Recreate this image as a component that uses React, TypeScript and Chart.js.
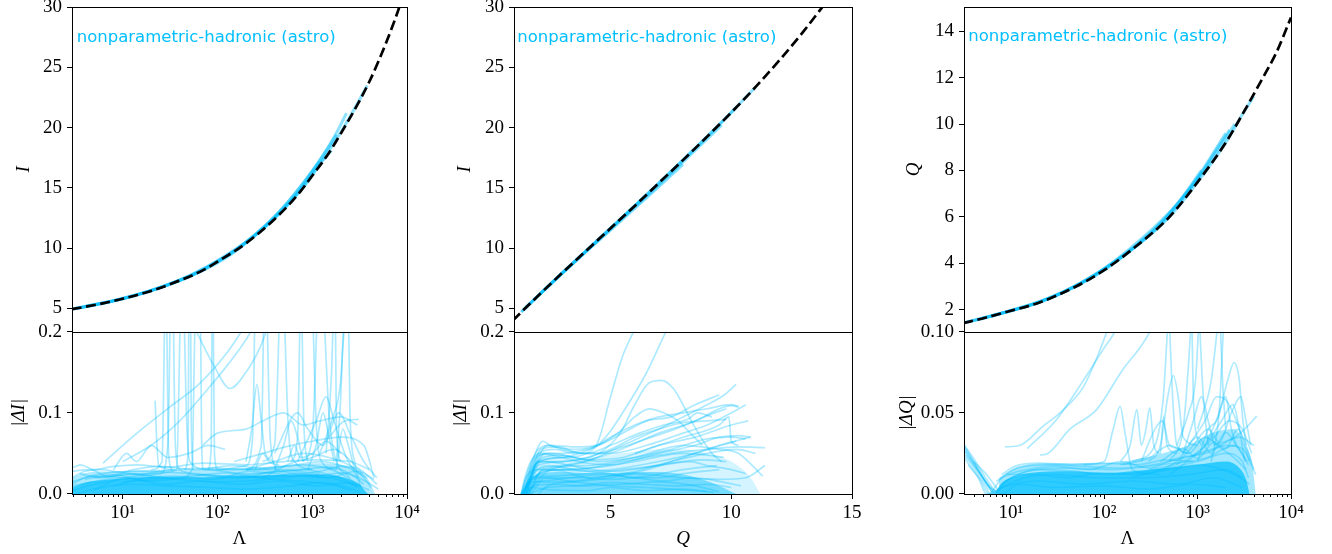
import React, { useEffect, useRef } from 'react';
import { Chart, registerables } from 'chart.js';
Chart.register(...registerables);

type Pt = [number, number];

const SERIF = '"Liberation Serif", "Times New Roman", serif';
const SANS = '"DejaVu Sans", sans-serif';
const ANNOTATION = 'nonparametric-hadronic (astro)';
const BLUE_TEXT = '#00BFFF';
const BLUE_LINE = 'rgba(0,191,255,0.32)';
const BLUE_TOP = 'rgba(0,191,255,0.45)';

// ---------- tick values / labels ----------
const LOG_MAJOR = [10, 100, 1000, 10000];
const LOG_MAJOR_LABELS = ['10¹', '10²', '10³', '10⁴'];
const LOG_MINOR = [3, 4, 5, 6, 7, 8, 9, 20, 30, 40, 50, 60, 70, 80, 90, 200, 300, 400, 500, 600, 700, 800, 900,
  2000, 3000, 4000, 5000, 6000, 7000, 8000, 9000];
const Q_X_TICKS = [5, 10, 15];
const Q_X_LABELS = ['5', '10', '15'];
const I_TICKS = [5, 10, 15, 20, 25, 30];
const I_LABELS = ['5', '10', '15', '20', '25', '30'];
const Q_TOP_TICKS = [2, 4, 6, 8, 10, 12, 14];
const Q_TOP_LABELS = ['2', '4', '6', '8', '10', '12', '14'];
const DI_TICKS = [0, 0.1, 0.2];
const DI_LABELS = ['0.0', '0.1', '0.2'];
const DQ_TICKS = [0, 0.05, 0.1];
const DQ_LABELS = ['0.00', '0.05', '0.10'];

// ---------- panel 1: I vs Lambda ----------
const P1_FIT_LAMBDA = [2.9, 4, 6, 10, 20, 40, 70, 100, 200, 400, 700, 1000, 1500, 2000, 3000, 4000, 5000, 6500, 8300, 9000];
const P1_FIT_I = [4.93, 5.13, 5.4, 5.8, 6.45, 7.32, 8.15, 8.87, 10.4, 12.4, 14.4, 16.0, 17.9, 19.5, 21.9, 23.8, 25.5, 27.7, 30.0, 30.9];
const P1_TOP_BLUE: Pt[][] = [
  [[3, 4.96], [5, 5.29], [10, 5.81], [20, 6.47], [50, 7.62], [100, 8.9], [200, 10.45], [500, 13.2], [1000, 16.1], [2000, 19.6], [3000, 22.0], [3800, 23.5]],
  [[3, 4.94], [6, 5.42], [12, 5.95], [30, 6.95], [80, 8.45], [200, 10.5], [500, 13.4], [1000, 16.4], [1700, 19.2], [2300, 21.2]],
  [[4, 5.15], [10, 5.82], [25, 6.75], [60, 7.95], [150, 9.75], [400, 12.6], [900, 15.9], [1500, 18.4], [1800, 19.4]],
  [[3, 4.95], [8, 5.62], [20, 6.5], [50, 7.7], [120, 9.35], [300, 11.6], [700, 14.6], [1200, 17.2]],
  [[3.5, 5.05], [9, 5.75], [22, 6.6], [55, 7.75], [140, 9.5], [350, 12.1], [800, 15.0], [1300, 17.3], [1600, 18.1]],
];
const P1_BOT_BAND: Pt[][] = [
  [[2.9, 0.004], [5, 0.012], [10, 0.018], [20, 0.02], [50, 0.017], [100, 0.015], [200, 0.016], [500, 0.02], [1000, 0.024], [2000, 0.02], [3000, 0.008]],
  [[2.9, 0.012], [4, 0.02], [7, 0.026], [15, 0.028], [40, 0.026], [100, 0.022], [300, 0.025], [800, 0.03], [1500, 0.033], [2500, 0.025], [3500, 0.012]],
  [[3.2, 0.0], [6, 0.008], [12, 0.012], [30, 0.01], [80, 0.008], [200, 0.006], [600, 0.01], [1200, 0.014], [2200, 0.009], [3200, 0.002]],
  [[2.9, 0.02], [4, 0.028], [6, 0.03], [9, 0.027], [20, 0.022], [60, 0.02], [150, 0.022], [400, 0.018], [900, 0.015], [1800, 0.01], [2600, 0.004]],
  [[5, 0.005], [8, 0.016], [16, 0.024], [35, 0.03], [90, 0.032], [250, 0.03], [600, 0.035], [1300, 0.04], [2400, 0.032], [3800, 0.02]],
  [[4, 0.018], [8, 0.024], [18, 0.016], [45, 0.02], [120, 0.026], [320, 0.02], [700, 0.026], [1400, 0.02], [3000, 0.028], [4500, 0.018]],
  [[2.9, 0.028], [4.5, 0.03], [7, 0.022], [13, 0.03], [25, 0.034], [60, 0.03], [140, 0.035], [300, 0.032], [700, 0.036], [1600, 0.03], [3300, 0.01]],
  [[2.9, 0.015], [5, 0.022], [11, 0.02], [28, 0.012], [65, 0.016], [170, 0.012], [450, 0.016], [1100, 0.01], [2300, 0.014], [4000, 0.005]],
  [[8, 0.01], [15, 0.018], [35, 0.022], [90, 0.018], [220, 0.028], [550, 0.024], [1200, 0.028], [2000, 0.034], [3200, 0.03], [4800, 0.012]],
  [[3.5, 0.025], [6, 0.02], [12, 0.025], [30, 0.02], [75, 0.024], [180, 0.02], [420, 0.028], [1000, 0.022], [2100, 0.026], [3600, 0.016], [5000, 0.006]],
  [[200, 0.03], [400, 0.04], [800, 0.05], [1500, 0.045], [2500, 0.035], [3500, 0.02], [4200, 0.008]],
  [[300, 0.02], [600, 0.038], [1000, 0.045], [1700, 0.055], [2600, 0.04], [3400, 0.025]],
  [[2.9, 0.032], [3.6, 0.036], [5, 0.03], [8, 0.034], [14, 0.036], [30, 0.033], [70, 0.038], [200, 0.036], [500, 0.04], [1200, 0.042], [2500, 0.04], [4000, 0.03]],
];
const P1_BOT_SPIKES: Pt[][] = [
  [[2.9, 0.01], [10, 0.02], [25, 0.025], [30, 0.06], [32, 0.25]],
  [[34, 0.25], [36, 0.06], [40, 0.03], [60, 0.025], [150, 0.02], [500, 0.022], [1500, 0.02], [3000, 0.01]],
  [[5, 0.02], [20, 0.025], [37, 0.03], [41, 0.25]],
  [[44, 0.25], [47, 0.1], [51, 0.04], [80, 0.03], [200, 0.025], [800, 0.03], [2000, 0.02]],
  [[10, 0.015], [40, 0.02], [54, 0.03], [57, 0.17], [59, 0.25]],
  [[66, 0.25], [68, 0.07], [71, 0.03], [120, 0.03], [400, 0.03], [1200, 0.025]],
  [[22, 0.115], [23, 0.06], [24, 0.035], [35, 0.03]],
  [[20, 0.03], [26, 0.04], [28, 0.25]],
  [[29, 0.25], [30.5, 0.05], [33, 0.03]],
  [[45, 0.03], [49, 0.05], [50, 0.25]],
  [[52, 0.25], [53, 0.08], [56, 0.03]],
  [[80, 0.03], [86, 0.06], [88, 0.25]],
  [[90, 0.25], [93, 0.05], [100, 0.03]],
  [[100, 0.03], [200, 0.035], [235, 0.07], [250, 0.25]],
  [[200, 0.04], [230, 0.08], [261, 0.135], [290, 0.09], [320, 0.05], [400, 0.04]],
  [[200, 0.03], [290, 0.06], [310, 0.25]],
  [[330, 0.25], [360, 0.07], [420, 0.03]],
  [[300, 0.04], [400, 0.06], [460, 0.25]],
  [[500, 0.25], [560, 0.08], [650, 0.04], [1000, 0.03]],
  [[600, 0.04], [700, 0.07], [750, 0.25]],
  [[770, 0.25], [820, 0.08], [900, 0.04]],
  [[800, 0.04], [1000, 0.07], [1150, 0.25]],
  [[1000, 0.25], [1100, 0.09], [1250, 0.04], [1800, 0.03]],
  [[1300, 0.25], [1500, 0.1], [1700, 0.05], [2500, 0.02]],
  [[1400, 0.05], [1600, 0.15], [1700, 0.25]],
  [[1750, 0.25], [1800, 0.08], [2000, 0.04]],
  [[1800, 0.04], [2000, 0.12], [2200, 0.25]],
  [[2400, 0.25], [2500, 0.1], [2800, 0.04], [3200, 0.01]],
];
const P1_BOT_MID: Pt[][] = [
  [[6.2, 0.038], [12.9, 0.071], [29, 0.104], [66, 0.137], [126, 0.174], [174, 0.198], [200, 0.21]],
  [[8, 0.03], [11, 0.05], [14, 0.04], [20, 0.06], [30, 0.045], [50, 0.05], [80, 0.06], [120, 0.055]],
  [[10, 0.04], [20, 0.06], [40, 0.09], [80, 0.13], [130, 0.16], [200, 0.19], [250, 0.21]],
  [[60, 0.2], [90, 0.16], [136, 0.13], [200, 0.15], [280, 0.18], [350, 0.21]],
  [[70, 0.06], [100, 0.075], [200, 0.08], [300, 0.09], [500, 0.1], [800, 0.085], [1200, 0.09], [2000, 0.095], [3000, 0.085]],
  [[150, 0.04], [300, 0.05], [600, 0.06], [1000, 0.065], [2000, 0.07], [3500, 0.06], [4500, 0.02]],
  [[700, 0.04], [1100, 0.09], [1400, 0.12], [1700, 0.09], [2200, 0.05], [3000, 0.02]],
  [[400, 0.05], [700, 0.1], [900, 0.08], [1300, 0.06], [1900, 0.1], [2600, 0.07], [3500, 0.04], [4800, 0.02]],
  [[1200, 0.05], [1600, 0.09], [2000, 0.14], [2100, 0.18], [2200, 0.21]],
  [[1500, 0.07], [2200, 0.09], [3100, 0.092]],
  [[400, 0.03], [500, 0.06], [600, 0.09], [700, 0.07], [800, 0.04]],
  [[900, 0.03], [1100, 0.06], [1300, 0.1], [1500, 0.07], [1700, 0.04]],
  [[1800, 0.03], [2100, 0.08], [2400, 0.06], [2800, 0.03]],
  [[250, 0.03], [300, 0.05], [350, 0.04], [450, 0.035]],
  [[550, 0.04], [650, 0.06], [750, 0.045], [1000, 0.05], [1400, 0.065], [2000, 0.05]],
];
const P1_BOT_CORE: Pt[] = [[2.9, 0.008], [4, 0.014], [6, 0.017], [10, 0.019], [20, 0.021], [50, 0.02], [100, 0.021], [300, 0.023], [800, 0.024], [1500, 0.023], [2500, 0.018], [3200, 0.011], [3600, 0.004], [3900, 0]];
const P1_BOT_HALO: Pt[] = [[2.9, 0.02], [4, 0.026], [8, 0.028], [20, 0.03], [60, 0.03], [200, 0.032], [600, 0.035], [1200, 0.038], [2000, 0.036], [3000, 0.03], [3800, 0.02], [4300, 0.008], [4600, 0]];

// ---------- panel 2: I vs Q ----------
const P2_FIT_Q = [0.95, 2, 3, 4, 5, 6, 7, 8, 9, 10, 11, 12, 13, 14];
const P2_FIT_I = [4.0, 6.05, 7.95, 9.8, 11.65, 13.5, 15.4, 17.3, 19.25, 21.25, 23.35, 25.6, 28.0, 30.6];
const P2_TOP_BLUE: Pt[][] = [
  [[1.3, 4.7], [2, 6.05], [3, 7.95], [4, 9.8], [5, 11.65], [6, 13.5], [7, 15.4], [8, 17.3], [9, 19.25], [10, 21.25], [11, 23.35]],
  [[1.4, 4.9], [2, 6.03], [3, 7.9], [4, 9.72], [5, 11.5], [6, 13.3], [7, 15.1], [8, 16.95]],
  [[1.5, 5.1], [2.5, 7.0], [4, 9.75], [5.5, 12.5], [7, 15.25], [8.5, 18.1], [9.6, 20.2]],
  [[2, 6.05], [3, 7.95], [5, 11.65], [7, 15.4], [9, 19.25], [10.2, 21.65]],
  [[1.3, 4.7], [2.5, 7.0], [4, 9.8], [5.5, 12.55], [6.5, 14.4]],
];
const P2_BOT_LINES_A: Pt[][] = [
  [[1.3, 0], [1.6, 0.03], [2.0, 0.055], [2.5, 0.06], [3.5, 0.058], [4.4, 0.06], [5, 0.07], [6, 0.085], [7, 0.095], [8, 0.1], [9, 0.105], [10, 0.11], [10.3, 0.108]],
  [[1.35, 0], [1.7, 0.035], [2.2, 0.065], [2.5, 0.06], [3.5, 0.055], [4.5, 0.06], [5.5, 0.075], [6.5, 0.09], [7.5, 0.095], [8.5, 0.11], [9.5, 0.122]],
  [[1.4, 0], [1.8, 0.03], [2.3, 0.05], [3, 0.05], [4, 0.055], [4.4, 0.06], [5, 0.12], [5.5, 0.17], [5.95, 0.2], [6.1, 0.21]],
  [[1.5, 0], [2, 0.04], [3, 0.045], [4, 0.05], [4.8, 0.07], [5.5, 0.1], [6.5, 0.15], [7.3, 0.2], [7.5, 0.21]],
  [[1.4, 0], [2, 0.035], [3, 0.04], [4.5, 0.05], [5.4, 0.075], [6.0, 0.11], [6.6, 0.137], [7.1, 0.14], [7.6, 0.13], [8.0, 0.11], [8.4, 0.087], [9.2, 0.05], [9.6, 0.04]],
  [[1.5, 0], [2.1, 0.04], [3, 0.045], [4.5, 0.06], [5.3, 0.075], [6, 0.095], [6.6, 0.105], [7.2, 0.1], [7.8, 0.09], [8.3, 0.075], [8.8, 0.06]],
  [[1.3, 0], [1.8, 0.02], [2.5, 0.03], [4, 0.04], [5.5, 0.06], [7, 0.08], [8, 0.095], [9, 0.11], [9.7, 0.122], [10.2, 0.135]],
  [[1.4, 0], [2, 0.03], [3, 0.035], [5, 0.05], [7, 0.075], [8.5, 0.09], [9.5, 0.105], [10, 0.109], [10.3, 0.107]],
  [[6, 0.05], [8, 0.07], [9.5, 0.085], [9.9, 0.095], [10, 0.065], [10.3, 0.06]],
  [[1.5, 0], [2, 0.025], [3, 0.03], [5, 0.035], [7, 0.05], [8.5, 0.06], [9.5, 0.07], [10.3, 0.072], [10.8, 0.07]],
  [[1.6, 0], [2.2, 0.03], [3.5, 0.03], [5.5, 0.04], [7.5, 0.05], [9, 0.055], [10.3, 0.058], [11.4, 0.057]],
  [[1.7, 0], [2.3, 0.02], [4, 0.02], [6, 0.025], [8, 0.02], [9.5, 0.018], [10.6, 0.02], [11.4, 0.035]],
  [[1.6, 0], [2.2, 0.03], [4, 0.035], [6, 0.045], [8, 0.06], [9.5, 0.055], [10.3, 0.05], [11.3, 0.022]],
  [[1.35, 0], [1.6, 0.015], [2.2, 0.02], [3.5, 0.015], [5, 0.01], [6.5, 0.008], [8, 0.005], [9, 0.003]],
  [[1.3, 0], [1.45, 0.02], [1.7, 0.04], [2.1, 0.05], [3, 0.045], [4, 0.038], [5, 0.036], [6, 0.04], [7, 0.046], [8, 0.05], [9, 0.048], [9.7, 0.045]],
  [[1.45, 0], [1.7, 0.03], [2.3, 0.04], [3.2, 0.036], [4.2, 0.03], [5.2, 0.028], [6.3, 0.032], [7.5, 0.038], [8.8, 0.042], [9.8, 0.04]],
];
const P2_BOT_LINES_B: Pt[][] = [
  [[1.3, 0], [1.5, 0.02], [2, 0.03], [3, 0.028], [4, 0.02], [5, 0.018], [6.5, 0.022], [8, 0.03], [9.4, 0.035]],
  [[1.5, 0], [1.8, 0.01], [2.5, 0.012], [4, 0.01], [5.5, 0.012], [7, 0.015], [8.5, 0.01], [9.5, 0.003]],
  [[1.4, 0], [1.9, 0.045], [2.5, 0.05], [3.5, 0.045], [4.5, 0.04], [6, 0.045], [7.5, 0.055], [9, 0.068], [10, 0.07], [10.6, 0.068]],
  [[1.45, 0], [2, 0.04], [3, 0.04], [4, 0.045], [5, 0.055], [6, 0.07], [7, 0.08], [8, 0.088], [9, 0.09], [9.8, 0.092]],
  [[1.55, 0], [2.1, 0.055], [2.8, 0.058], [3.8, 0.05], [5, 0.05], [6.5, 0.06], [8, 0.075], [9, 0.085], [10, 0.1], [10.6, 0.11]],
  [[1.35, 0], [1.7, 0.02], [2.5, 0.022], [4, 0.025], [5.5, 0.03], [7, 0.035], [8.3, 0.04], [9, 0.035], [10, 0.03], [10.6, 0.025]],
  [[1.5, 0], [2, 0.05], [2.7, 0.055], [3.5, 0.05], [4.5, 0.05], [5.5, 0.058], [6.5, 0.068], [7.5, 0.078], [8.5, 0.09], [9.3, 0.1], [9.8, 0.105]],
  [[1.6, 0], [2, 0.015], [3, 0.015], [4.5, 0.02], [6, 0.028], [7.5, 0.04], [9, 0.05], [10.2, 0.055], [11, 0.05]],
  [[1.4, 0], [1.8, 0.025], [2.4, 0.035], [3.5, 0.03], [5, 0.025], [6, 0.02], [7, 0.02], [8, 0.025], [9.5, 0.03]],
  [[1.5, 0], [1.7, 0.008], [2.5, 0.005], [4, 0.004], [5, 0.008], [6.5, 0.004], [8, 0.006], [9.3, 0.002]],
  [[1.3, 0], [2.2, 0.045], [3, 0.048], [4, 0.042], [5.5, 0.045], [7, 0.06], [8.5, 0.07], [10, 0.085], [10.7, 0.09]],
  [[1.4, 0], [2.4, 0.06], [3, 0.055], [4, 0.05], [5, 0.06], [6.2, 0.075], [7.2, 0.085], [8.2, 0.092], [8.6, 0.1], [9.2, 0.095]],
  [[2, 0], [2.4, 0.01], [3.5, 0.015], [5, 0.02], [6.5, 0.03], [8, 0.045], [9.5, 0.06], [10.8, 0.07]],
  [[1.5, 0], [2.6, 0.03], [4, 0.028], [5.5, 0.032], [7, 0.04], [8.5, 0.05], [9.6, 0.06], [10.2, 0.065]],
  [[1.35, 0], [1.55, 0.012], [2.2, 0.016], [3.3, 0.02], [4.6, 0.024], [6, 0.02], [7.2, 0.016], [8.4, 0.02], [9.6, 0.015], [10.4, 0.01]],
  [[1.6, 0], [2.4, 0.008], [3.6, 0.01], [5, 0.014], [6.4, 0.012], [7.8, 0.01], [9, 0.012], [10, 0.008]],
];
const P2_BOT_CORE: Pt[] = [[1.35, 0], [1.6, 0.015], [2, 0.025], [3, 0.027], [4, 0.026], [5, 0.026], [6, 0.027], [7, 0.027], [8, 0.024], [9, 0.016], [9.8, 0.006], [10.2, 0]];
const P2_BOT_HALO: Pt[] = [[1.3, 0], [1.7, 0.035], [2.2, 0.05], [3, 0.048], [4, 0.045], [5, 0.048], [6, 0.052], [7, 0.055], [8, 0.055], [9, 0.05], [10, 0.04], [10.8, 0.02], [11.2, 0]];

// ---------- panel 3: Q vs Lambda ----------
const P3_FIT_LAMBDA = [3.1, 5, 10, 20, 50, 100, 200, 500, 1000, 2000, 3000, 5000, 7000, 10000];
const P3_FIT_Q = [1.42, 1.62, 1.95, 2.3, 3.0, 3.7, 4.6, 6.0, 7.5, 9.2, 10.4, 12.0, 13.1, 14.6];
const P3_TOP_BLUE: Pt[][] = [
  [[3.2, 1.43], [5, 1.62], [10, 1.95], [20, 2.3], [50, 3.0], [100, 3.7], [200, 4.6], [500, 6.0], [1000, 7.5], [2000, 9.2], [3000, 10.4], [4000, 11.2]],
  [[3.2, 1.44], [10, 1.97], [30, 2.6], [100, 3.75], [300, 5.2], [700, 6.85], [1500, 8.6], [2500, 10.0]],
  [[5, 1.63], [15, 2.15], [50, 3.05], [150, 4.25], [400, 5.65], [900, 7.4], [1600, 8.9], [2200, 9.75]],
  [[3.2, 1.43], [8, 1.85], [25, 2.45], [80, 3.5], [250, 5.05], [600, 6.55], [1100, 8.0]],
  [[6, 1.7], [20, 2.32], [60, 3.2], [180, 4.5], [450, 5.95], [1000, 7.7], [2000, 9.6]],
];
const P3_BOT_BAND: Pt[][] = [
  [[3.1, 0.031], [4, 0.022], [5, 0.013], [6, 0.006], [7, 0.002], [8, 0.006], [12, 0.012], [20, 0.015], [50, 0.014], [100, 0.012], [300, 0.014], [1000, 0.02], [2000, 0.025], [3000, 0.02], [3500, 0.01]],
  [[3.1, 0.028], [4, 0.019], [5, 0.01], [6, 0.003], [6.5, 0], [9, 0.008], [15, 0.014], [40, 0.016], [120, 0.015], [400, 0.018], [1200, 0.022], [2500, 0.03], [3400, 0.02]],
  [[3.1, 0.025], [4.5, 0.012], [5.5, 0.004], [6, 0], [8, 0.004], [14, 0.01], [30, 0.012], [80, 0.01], [250, 0.01], [800, 0.012], [2000, 0.015], [3000, 0.01]],
  [[3.2, 0.022], [4.5, 0.01], [5.5, 0], [9, 0.005], [20, 0.008], [60, 0.006], [200, 0.008], [600, 0.006], [1500, 0.01], [3000, 0.004]],
  [[3.5, 0.018], [4.8, 0.008], [5.8, 0], [8, 0.01], [12, 0.016], [25, 0.018], [60, 0.017], [150, 0.016], [500, 0.02], [1500, 0.028], [2800, 0.035], [4000, 0.03]],
  [[4, 0.02], [5.5, 0.012], [7, 0.004], [8, 0], [12, 0.006], [30, 0.004], [100, 0.005], [300, 0.003], [900, 0.006], [2000, 0.004]],
  [[3.16, 0.03], [4, 0.02], [5, 0.011], [6, 0.004], [6.8, 0]],
  [[3.16, 0.029], [4.2, 0.018], [5.2, 0.009], [6.5, 0.002], [7.2, 0]],
  [[3.16, 0.027], [4, 0.018], [5, 0.01], [6, 0.003], [6.6, 0]],
  [[3.3, 0.024], [4.5, 0.014], [5.8, 0.005], [7.5, 0]],
  [[7, 0.008], [10, 0.012], [18, 0.012], [40, 0.01], [90, 0.013], [200, 0.012], [500, 0.015], [1000, 0.018], [2500, 0.012], [3600, 0.006]],
  [[9, 0.012], [15, 0.015], [30, 0.017], [70, 0.015], [150, 0.02], [300, 0.016], [600, 0.022], [1200, 0.025], [2000, 0.03], [3000, 0.028], [4200, 0.012]],
  [[300, 0.015], [700, 0.02], [1200, 0.03], [1800, 0.045], [2400, 0.055], [2800, 0.04], [3200, 0.02]],
  [[500, 0.012], [1000, 0.025], [1500, 0.035], [2200, 0.045], [3000, 0.04], [3800, 0.025]],
  [[200, 0.01], [600, 0.02], [1000, 0.035], [1400, 0.025], [2000, 0.038], [2600, 0.03], [3500, 0.018]],
  [[400, 0.02], [700, 0.028], [1000, 0.022], [1500, 0.032], [2000, 0.028], [2700, 0.04], [3300, 0.03], [4000, 0.015]],
  [[600, 0.018], [900, 0.03], [1300, 0.04], [1700, 0.032], [2300, 0.05], [2900, 0.06], [3300, 0.045], [3700, 0.03]],
  [[150, 0.018], [300, 0.022], [500, 0.03], [800, 0.025], [1200, 0.035], [1800, 0.028], [2500, 0.022], [3300, 0.015]],
  [[8, 0.012], [11, 0.017], [20, 0.019], [45, 0.018], [100, 0.019], [220, 0.018], [480, 0.021], [900, 0.02]],
];
const P3_BOT_SHAPES: Pt[][] = [
  [[8.7, 0.029], [12.6, 0.03], [22.4, 0.042], [33.6, 0.05], [60, 0.066], [85, 0.085], [107, 0.1], [115, 0.105]],
  [[20.6, 0.024], [25, 0.025], [43, 0.04], [83, 0.052], [160, 0.077], [240, 0.09], [308, 0.1], [330, 0.105]],
  [[15, 0.028], [30, 0.045], [60, 0.07], [100, 0.09], [130, 0.1], [140, 0.105]],
  [[60, 0.018], [100, 0.02], [125, 0.04], [148, 0.054], [170, 0.035], [200, 0.015], [400, 0.012]],
  [[150, 0.02], [190, 0.03], [224, 0.052], [250, 0.03], [280, 0.04], [308, 0.053], [340, 0.03], [400, 0.025], [432, 0.048], [470, 0.03], [600, 0.025]],
  [[300, 0.02], [400, 0.03], [480, 0.06], [550, 0.073], [620, 0.06], [700, 0.035], [1000, 0.03]],
  [[1200, 0.03], [1700, 0.05], [2100, 0.07], [2460, 0.081], [2800, 0.07], [3000, 0.05], [3300, 0.03]],
  [[800, 0.03], [1200, 0.045], [1600, 0.06], [2000, 0.058], [2400, 0.05], [3000, 0.035], [3600, 0.02]],
  [[1500, 0.03], [2500, 0.035], [3200, 0.04], [4300, 0.048]],
  [[200, 0.02], [350, 0.03], [430, 0.06], [480, 0.105]],
  [[500, 0.105], [540, 0.06], [600, 0.03], [800, 0.025]],
  [[500, 0.02], [700, 0.04], [800, 0.08], [850, 0.105]],
  [[870, 0.105], [900, 0.06], [950, 0.04], [1100, 0.03]],
  [[600, 0.03], [800, 0.05], [950, 0.07], [1030, 0.105]],
  [[1050, 0.105], [1150, 0.06], [1300, 0.03]],
  [[1000, 0.04], [1400, 0.07], [1650, 0.105]],
  [[1750, 0.105], [1850, 0.07], [2000, 0.04]],
  [[1400, 0.02], [1700, 0.05], [1900, 0.105]],
  [[700, 0.025], [900, 0.045], [1100, 0.06], [1300, 0.045], [1500, 0.03]],
  [[1000, 0.02], [1300, 0.04], [1600, 0.045], [2000, 0.06], [2300, 0.04], [2600, 0.03]],
  [[250, 0.02], [350, 0.04], [420, 0.045], [500, 0.03], [650, 0.028]],
];
const P3_BOT_CORE: Pt[] = [[6.8, 0], [7.8, 0.006], [10, 0.01], [16, 0.013], [40, 0.014], [100, 0.013], [300, 0.015], [1000, 0.018], [2000, 0.02], [2800, 0.016], [3300, 0.009], [3600, 0]];
const P3_BOT_HALO: Pt[] = [[7.5, 0.01], [12, 0.017], [30, 0.019], [100, 0.019], [300, 0.023], [800, 0.03], [1500, 0.038], [2500, 0.04], [3200, 0.03], [3800, 0.02], [4200, 0]];

// ---------- layout specs ----------
const COLUMNS = [
  {
    left: 0, width: 440, yAxisWidth: 72, padRight: 33,
    xType: 'logarithmic', xMin: 2.92, xMax: 10000, xTicks: [...LOG_MAJOR, ...LOG_MINOR], xMajor: LOG_MAJOR, xMajorLabels: LOG_MAJOR_LABELS,
    xTitle: 'Λ', xTitleItalic: false,
    topMin: 3.07, topMax: 30, topTicks: I_TICKS, topLabels: I_LABELS, topTitle: 'I', topTitlePad: 12.6,
    botMin: 0, botMax: 0.2, botTicks: DI_TICKS, botLabels: DI_LABELS, botTitle: '|ΔI|', botTitlePad: 7.6,
    fitX: P1_FIT_LAMBDA, fitY: P1_FIT_I, topBlue: P1_TOP_BLUE, botLines: [...P1_BOT_BAND, ...P1_BOT_SPIKES, ...P1_BOT_MID],
    botCore: P1_BOT_CORE, botHalo: P1_BOT_HALO, coreAlpha: 0.72, haloAlpha: 0.32,
    textDx: 4.7, textDy: 31,
  },
  {
    left: 440, width: 450, yAxisWidth: 74, padRight: 38,
    xType: 'linear', xMin: 1, xMax: 15, xTicks: Q_X_TICKS, xMajor: Q_X_TICKS, xMajorLabels: Q_X_LABELS,
    xTitle: 'Q', xTitleItalic: true,
    topMin: 3.07, topMax: 30, topTicks: I_TICKS, topLabels: I_LABELS, topTitle: 'I', topTitlePad: 13.6,
    botMin: 0, botMax: 0.2, botTicks: DI_TICKS, botLabels: DI_LABELS, botTitle: '|ΔI|', botTitlePad: 9.6,
    fitX: P2_FIT_Q, fitY: P2_FIT_I, topBlue: P2_TOP_BLUE, botLines: [...P2_BOT_LINES_A, ...P2_BOT_LINES_B],
    botCore: P2_BOT_CORE, botHalo: P2_BOT_HALO, coreAlpha: 0.45, haloAlpha: 0.17,
    textDx: 3.3, textDy: 31,
  },
  {
    left: 890, width: 442, yAxisWidth: 74, padRight: 41,
    xType: 'logarithmic', xMin: 3.16, xMax: 10000, xTicks: [...LOG_MAJOR, ...LOG_MINOR], xMajor: LOG_MAJOR, xMajorLabels: LOG_MAJOR_LABELS,
    xTitle: 'Λ', xTitleItalic: false,
    topMin: 1.05, topMax: 15.05, topTicks: Q_TOP_TICKS, topLabels: Q_TOP_LABELS, topTitle: 'Q', topTitlePad: 12.6,
    botMin: 0, botMax: 0.1, botTicks: DQ_TICKS, botLabels: DQ_LABELS, botTitle: '|ΔQ|', botTitlePad: 5.6,
    fitX: P3_FIT_LAMBDA, fitY: P3_FIT_Q, topBlue: P3_TOP_BLUE, botLines: [...P3_BOT_BAND, ...P3_BOT_SHAPES],
    botCore: P3_BOT_CORE, botHalo: P3_BOT_HALO, coreAlpha: 0.72, haloAlpha: 0.36,
    textDx: 4.3, textDy: 29.4,
  },
];

const toXY = (pts: Pt[]) => pts.map(([x, y]) => ({ x, y }));

function buildConfig(spec: any): any {
  const datasets: any[] = [];
  datasets.push({
    data: spec.fitX.map((x: number, i: number) => ({ x, y: spec.fitY[i] })),
    xAxisID: 'x', yAxisID: 'yTop', borderColor: '#000', borderWidth: 2.7, borderDash: [10, 4.5],
    pointRadius: 0, fill: false, cubicInterpolationMode: 'monotone', order: 0,
  });
  spec.topBlue.forEach((pts: Pt[]) => datasets.push({
    data: toXY(pts), xAxisID: 'x', yAxisID: 'yTop', borderColor: BLUE_TOP, borderWidth: 3,
    pointRadius: 0, fill: false, cubicInterpolationMode: 'monotone', order: 1,
  }));
  spec.botLines.forEach((pts: Pt[]) => datasets.push({
    data: toXY(pts), xAxisID: 'x', yAxisID: 'yBot', borderColor: BLUE_LINE, borderWidth: 1.7,
    pointRadius: 0, fill: false, cubicInterpolationMode: 'monotone', order: 1,
  }));
  datasets.push({
    data: toXY(spec.botCore), xAxisID: 'x', yAxisID: 'yBot', borderColor: 'rgba(0,0,0,0)', borderWidth: 0,
    backgroundColor: `rgba(0,191,255,${spec.coreAlpha})`, pointRadius: 0, fill: 'origin', cubicInterpolationMode: 'monotone', order: 2,
  });
  datasets.push({
    data: toXY(spec.botHalo), xAxisID: 'x', yAxisID: 'yBot', borderColor: 'rgba(0,0,0,0)', borderWidth: 0,
    backgroundColor: `rgba(0,191,255,${spec.haloAlpha})`, pointRadius: 0, fill: 'origin', cubicInterpolationMode: 'monotone', order: 3,
  });

  const xLabelMap = new Map<number, string>(spec.xMajor.map((v: number, i: number) => [v, spec.xMajorLabels[i]]));
  const tickFont = { family: SERIF, size: 19 };
  const titleFont = { family: SERIF, size: 19, style: 'italic' };

  const yScale = (min: number, max: number, ticks: number[], labels: string[], title: string, pad: number, weight: number) => ({
    type: 'linear', position: 'left', stack: 'col', stackWeight: weight, min, max,
    afterBuildTicks: (s: any) => { s.ticks = ticks.map((v) => ({ value: v })); },
    afterFit: (s: any) => { s.width = spec.yAxisWidth; s.paddingTop = 0; s.paddingBottom = 0; },
    ticks: { autoSkip: false, padding: 5, color: '#000', font: tickFont, callback: (_v: any, i: number) => labels[i] },
    grid: { drawOnChartArea: false, drawTicks: true, tickLength: 5, tickColor: '#000', tickWidth: 1 },
    border: { display: false },
    title: { display: true, text: title, color: '#000', font: titleFont, padding: { top: pad, bottom: 0 } },
  });

  const framePlugin = {
    id: 'frame' + spec.left,
    afterDatasetsDraw(chart: any) {
      const ctx = chart.ctx;
      const x = chart.scales.x, yt = chart.scales.yTop, yb = chart.scales.yBot;
      ctx.save();
      ctx.strokeStyle = '#000';
      ctx.lineWidth = 1;
      for (const y of [yt, yb]) {
        ctx.strokeRect(Math.round(x.left) + 0.5, Math.round(y.top) + 0.5, Math.round(x.right - x.left), Math.round(y.bottom - y.top));
      }
      ctx.beginPath();
      for (const t of x.ticks) {
        if (t.major) continue;
        const px = Math.round(x.getPixelForValue(t.value)) + 0.5;
        ctx.moveTo(px, Math.round(yb.bottom));
        ctx.lineTo(px, Math.round(yb.bottom) + 3);
      }
      ctx.stroke();
      ctx.fillStyle = BLUE_TEXT;
      ctx.font = '16.5px ' + SANS;
      ctx.textBaseline = 'middle';
      ctx.textAlign = 'left';
      ctx.fillText(ANNOTATION, x.left + spec.textDx, yt.top + spec.textDy);
      ctx.restore();
    },
  };

  return {
    type: 'line',
    data: { datasets },
    options: {
      animation: false,
      responsive: false,
      maintainAspectRatio: false,
      layout: { padding: { top: 7, right: spec.padRight, left: 0, bottom: 0 } },
      plugins: { legend: { display: false }, tooltip: { enabled: false }, title: { display: false } },
      scales: {
        x: {
          type: spec.xType, position: 'bottom', min: spec.xMin, max: spec.xMax,
          afterBuildTicks: (s: any) => {
            s.ticks = spec.xTicks
              .filter((v: number) => v >= spec.xMin && v <= spec.xMax)
              .sort((a: number, b: number) => a - b)
              .map((v: number) => ({ value: v, major: spec.xMajor.includes(v) }));
          },
          afterFit: (s: any) => { s.height = 60; s.paddingLeft = 0; s.paddingRight = 0; },
          ticks: {
            autoSkip: false, maxRotation: 0, minRotation: 0, padding: 3, color: '#000', font: tickFont,
            callback: (v: any) => xLabelMap.get(Number(v)) ?? '',
          },
          grid: {
            drawOnChartArea: false, drawTicks: true, tickLength: 5, tickWidth: 1,
            tickColor: (c: any) => (c.tick && c.tick.major ? '#000' : 'rgba(0,0,0,0)'),
          },
          border: { display: false },
          title: {
            display: true, text: spec.xTitle, color: '#000',
            font: { family: SERIF, size: 19, style: spec.xTitleItalic ? 'italic' : 'normal' },
            padding: { top: 0, bottom: 4 },
          },
        },
        yBot: yScale(spec.botMin, spec.botMax, spec.botTicks, spec.botLabels, spec.botTitle, spec.botTitlePad, 1),
        yTop: yScale(spec.topMin, spec.topMax, spec.topTicks, spec.topLabels, spec.topTitle, spec.topTitlePad, 2),
      },
    },
    plugins: [framePlugin],
  };
}

function Column({ spec }: { spec: any }) {
  const ref = useRef<HTMLCanvasElement>(null);
  useEffect(() => {
    if (!ref.current) return;
    const chart = new Chart(ref.current, buildConfig(spec));
    return () => chart.destroy();
  }, [spec]);
  return (
    <canvas
      ref={ref}
      width={spec.width}
      height={554}
      style={{ position: 'absolute', left: spec.left, top: 0, width: spec.width, height: 554 }}
    />
  );
}

export default function App() {
  return (
    <div style={{ position: 'absolute', left: 0, top: 0, width: 1332, height: 554, background: '#fff', overflow: 'hidden' }}>
      {COLUMNS.map((c, i) => <Column key={i} spec={c} />)}
    </div>
  );
}
